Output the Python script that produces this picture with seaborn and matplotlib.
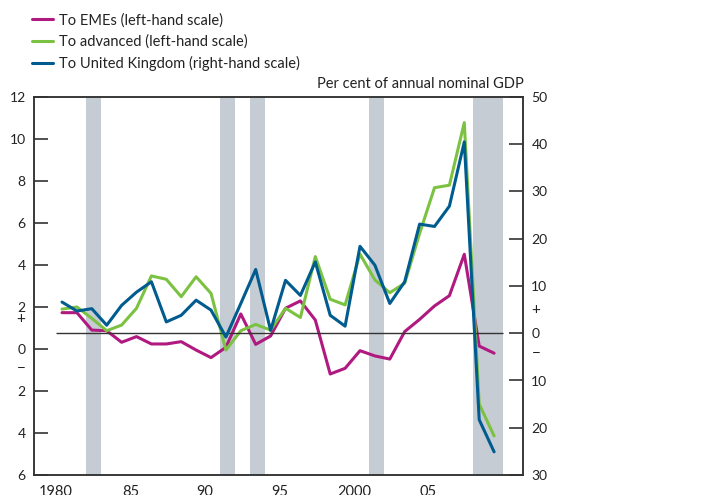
import numpy as np
import pandas as pd
import matplotlib
matplotlib.use('Agg')
import matplotlib.pyplot as plt
import seaborn as sns

# capital flows, per cent of annual nominal GDP
years = list(range(1980, 2010))
emes = [1.73, 1.73, 0.90, 0.87, 0.32, 0.59, 0.24, 0.24, 0.35, -0.05,
        -0.41, 0.08, 1.67, 0.22, 0.62, 1.94, 2.29, 1.38, -1.19, -0.92,
        -0.08, -0.33, -0.48, 0.83, 1.41, 2.05, 2.54, 4.51, 0.14, -0.20]
advanced = [1.90, 2.00, 1.46, 0.87, 1.14, 1.94, 3.48, 3.32, 2.49, 3.44,
            2.65, -0.05, 0.87, 1.17, 0.90, 1.94, 1.50, 4.40, 2.37, 2.10,
            4.52, 3.29, 2.68, 3.13, 5.50, 7.68, 7.80, 10.78, -2.62, -4.14]
uk = [6.6, 4.7, 5.2, 1.7, 5.9, 8.7, 10.9, 2.4, 3.8, 7.0,
      4.9, -0.8, 6.3, 13.5, 0.6, 11.2, 8.0, 15.1, 3.8, 1.5,
      18.4, 14.4, 6.3, 10.9, 23.1, 22.6, 26.9, 40.5, -18.3, -25.1]
recessions = [(1982, 1983), (1991, 1992), (1993, 1994), (2001, 2002), (2008, 2010)]

labels = ['To EMEs (left-hand scale)', 'To advanced (left-hand scale)',
          'To United Kingdom (right-hand scale)']
colors = ['#b0197f', '#7cc242', '#005c8e']

sns.set_style('white')
plt.rcParams['font.family'] = ['Lato', 'DejaVu Sans']
plt.rcParams['font.size'] = 10
text_col = '#222222'

df = pd.DataFrame({'x': np.array(years) + 0.4, 'emes': emes, 'adv': advanced, 'uk': uk})

fig = plt.figure(figsize=(7.07, 4.95), dpi=100)
ax = fig.add_axes([34/707, 20/495, 489/707, 378/495])
ax2 = ax.twinx()

for a, b in recessions:
    ax.axvspan(a, b, color='#c5ccd3', lw=0, zorder=0)

sns.lineplot(data=df, x='x', y='emes', ax=ax, color=colors[0], lw=2.2, legend=False)
sns.lineplot(data=df, x='x', y='adv', ax=ax, color=colors[1], lw=2.2, legend=False)
sns.lineplot(data=df, x='x', y='uk', ax=ax2, color=colors[2], lw=2.2, legend=False)
ax2.hlines(0, 1980, 2010, color='#333333', lw=1, zorder=1)

ax.set_xlim(1978.52, 2011.34)
ax.set_ylim(-6, 12)
ax2.set_ylim(-30, 50)
ax.set_xlabel('')
ax.set_ylabel('')
ax2.set_ylabel('')

ax.set_xticks(range(1980, 2011, 5))
ax.set_xticklabels(['1980', '85', '90', '95', '2000', '05', ''])
ax.set_xticks(range(1980, 2011), minor=True)
ax.tick_params(axis='x', which='major', direction='in', length=11, width=1.2,
               color='#333333', pad=7, labelsize=10.5, labelcolor=text_col)
ax.tick_params(axis='x', which='minor', direction='in', length=5, width=1, color='#333333')

lt = list(range(-6, 13, 2))
ax.set_yticks(lt)
ax.set_yticklabels([str(abs(v)) for v in lt])
ax.tick_params(axis='y', direction='in', length=10, width=1.2, color='#333333',
               pad=6, labelsize=10, labelcolor=text_col)
rt = list(range(-30, 51, 10))
ax2.set_yticks(rt)
ax2.set_yticklabels([str(abs(v)) for v in rt])
ax2.tick_params(axis='y', direction='in', length=10, width=1.2, color='#333333',
                pad=6, labelsize=10, labelcolor=text_col)

for a_ in (ax, ax2):
    for s in a_.spines.values():
        s.set_visible(True)
        s.set_color('#333333')
        s.set_linewidth(1.1)

# sign markers
fig.text(21/707, 1 - 319/495, '+', ha='center', va='center', fontsize=11, color=text_col)
fig.text(21/707, 1 - 369/495, '\u2212', ha='center', va='center', fontsize=11, color=text_col)
fig.text(536/707, 1 - 310/495, '+', ha='center', va='center', fontsize=11, color=text_col)
fig.text(536/707, 1 - 354/495, '\u2212', ha='center', va='center', fontsize=11, color=text_col)

fig.text(524/707, 1 - 84/495, 'Per cent of annual nominal GDP', ha='right', va='center',
         fontsize=10.5, color=text_col)

handles = [plt.Line2D([], [], color=c, lw=2.2) for c in colors]
fig.legend(handles, labels, loc='upper left', bbox_to_anchor=(32/707, 1 - 13/495),
           frameon=False, fontsize=10.5, handlelength=1.45, handletextpad=0.4,
           labelspacing=0.5, borderpad=0, borderaxespad=0, labelcolor=text_col)

fig.savefig('out.png', dpi=100)
